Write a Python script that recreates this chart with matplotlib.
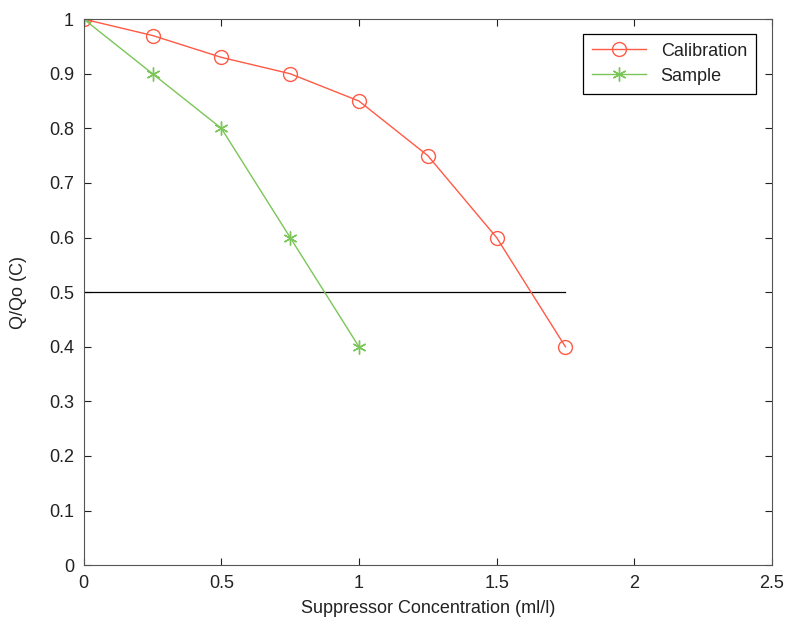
import matplotlib
matplotlib.use('Agg')
import matplotlib.pyplot as plt
import numpy as np

plt.rcParams['font.family'] = ['Liberation Sans', 'DejaVu Sans']

# data
calib_x = [0, 0.25, 0.5, 0.75, 1.0, 1.25, 1.5, 1.75]
calib_y = [1.0, 0.97, 0.93, 0.90, 0.85, 0.75, 0.60, 0.40]
sample_x = [0, 0.25, 0.5, 0.75, 1.0]
sample_y = [1.0, 0.90, 0.80, 0.60, 0.40]
ref_x = [0, 1.75]
ref_y = [0.5, 0.5]

red = '#ff5a45'
green = '#7ac657'

fig = plt.figure(figsize=(7.9, 6.17), dpi=100)
ax = fig.add_axes([0.106, 0.084, 0.871, 0.885])

# MATLAB style asterisk
asterisk = (6, 2, 0)

ax.plot(ref_x, ref_y, color='black', lw=0.9)
ax.plot(calib_x, calib_y, color=red, lw=1.0, marker='o', ms=10,
        mfc='none', mec=red, mew=1.0, label='Calibration')
ax.plot(sample_x, sample_y, color=green, lw=1.0, marker=asterisk, ms=10,
        mec=green, mew=1.0, label='Sample')

ax.set_xlim(0, 2.5)
ax.set_ylim(0, 1)
ax.set_xticks(np.arange(0, 2.51, 0.5))
ax.set_xticklabels(['0', '0.5', '1', '1.5', '2', '2.5'])
ax.set_yticks(np.arange(0, 1.01, 0.1))
ax.set_yticklabels(['0', '0.1', '0.2', '0.3', '0.4', '0.5', '0.6', '0.7', '0.8', '0.9', '1'])
ax.tick_params(direction='in', top=True, right=True, length=5, width=0.8,
               labelsize=13, colors='#222222', pad=7)
for s in ax.spines.values():
    s.set_color('#555555')
    s.set_linewidth(0.8)

ax.set_xlabel('Suppressor Concentration (ml/l)', fontsize=13, color='#222222', labelpad=6)
ax.set_ylabel('Q/Qo (C)', fontsize=13, color='#222222', labelpad=16)

leg = ax.legend(loc='upper right', bbox_to_anchor=(0.99, 0.99), fontsize=13,
                handlelength=3.0, fancybox=False, framealpha=1, borderpad=0.5,
                labelspacing=0.45)
leg.get_frame().set_edgecolor('black')
leg.get_frame().set_linewidth(0.9)
for t in leg.get_texts():
    t.set_color('#222222')

fig.savefig('out.png', dpi=100)
